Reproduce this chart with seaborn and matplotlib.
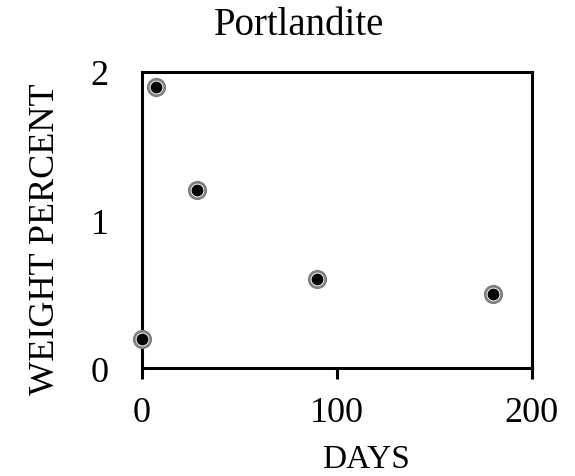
import matplotlib
matplotlib.use("Agg")
import matplotlib.pyplot as plt
import seaborn as sns
import pandas as pd

days = [0, 7, 28, 90, 180]
weight_percent = [0.2, 1.9, 1.2, 0.6, 0.5]
x_ticks = [0, 100, 200]
y_ticks = [0, 1, 2]

sns.set_theme(style="white")
plt.rcParams['font.family'] = ['Liberation Serif', 'DejaVu Serif']
plt.rcParams['text.color'] = 'black'
plt.rcParams['axes.labelcolor'] = 'black'
plt.rcParams['xtick.color'] = 'black'
plt.rcParams['ytick.color'] = 'black'

df = pd.DataFrame({"DAYS": days, "WEIGHT PERCENT": weight_percent})

fig = plt.figure(figsize=(5.75, 4.77), dpi=100)
ax = fig.add_axes([0.247, 0.226, 0.678, 0.621])

sns.scatterplot(data=df, x="DAYS", y="WEIGHT PERCENT", ax=ax, s=140,
                color="white", edgecolor="#808080", linewidth=2.0, zorder=3, clip_on=False)
sns.scatterplot(data=df, x="DAYS", y="WEIGHT PERCENT", ax=ax, s=72,
                color="black", edgecolor="black", linewidth=0, zorder=4, clip_on=False)

ax.set_xlim(0, 200)
ax.set_ylim(0, 2)
ax.set_xticks(x_ticks)
ax.set_yticks(y_ticks)
ax.set_xticklabels([str(t) for t in x_ticks])
ax.set_yticklabels([str(t) for t in y_ticks])

for s in ax.spines.values():
    s.set_linewidth(2.2)
    s.set_color("black")

ax.tick_params(axis="x", direction="out", length=8, width=2.2, color="black",
               labelsize=26, pad=12, bottom=True, labelcolor="black")
ax.tick_params(axis="y", length=0, labelsize=26, pad=24, labelcolor="black")

ax.set_xlabel("DAYS", fontsize=24, color="black")
ax.xaxis.set_label_coords(0.574, -0.253)
ax.set_ylabel("WEIGHT PERCENT", fontsize=26, color="black")
ax.yaxis.set_label_coords(-0.205, 0.44)
ax.set_title("Portlandite", fontsize=28, pad=27, x=0.403, color="black")

fig.savefig("out.png", dpi=100)
